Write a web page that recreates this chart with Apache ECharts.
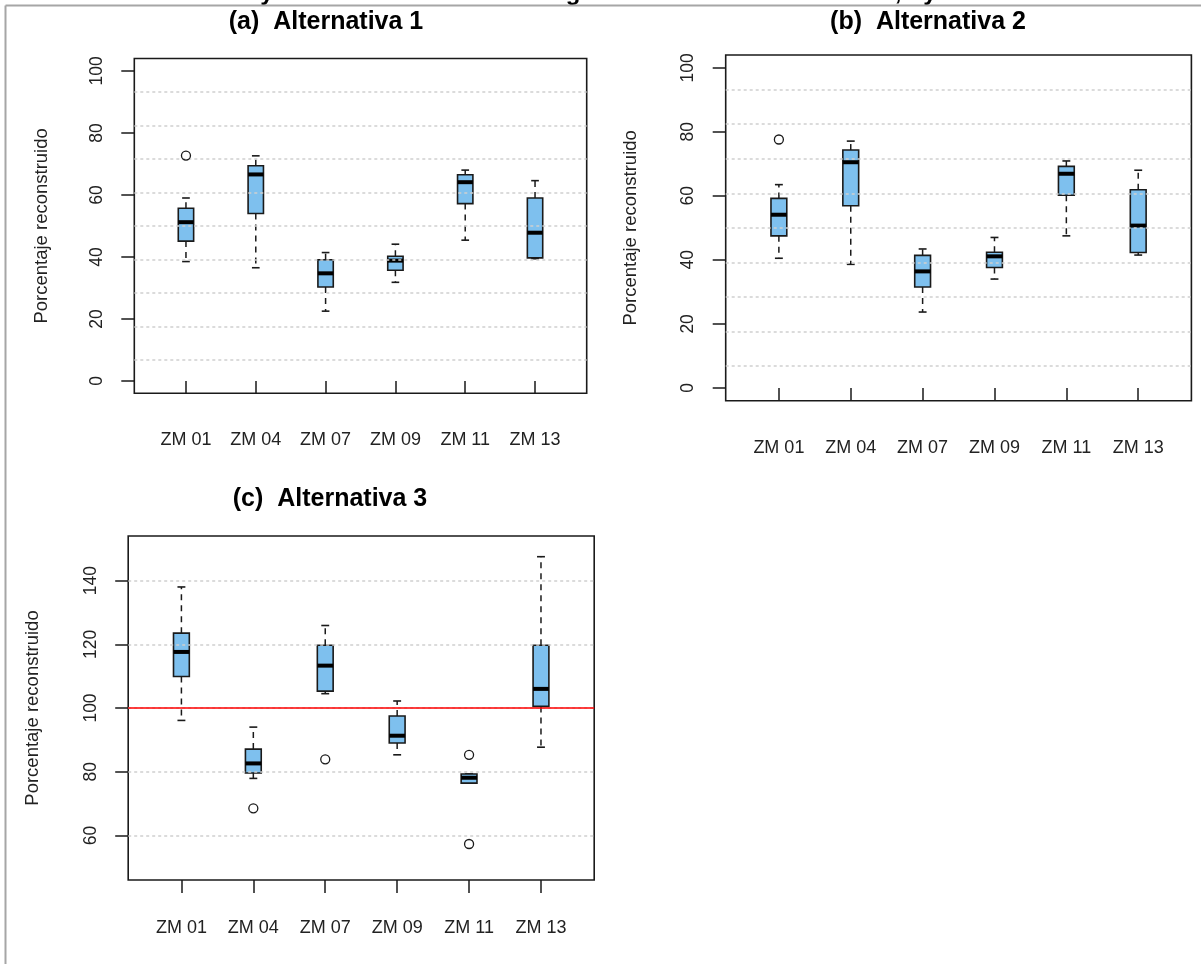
<!DOCTYPE html>
<html>
<head>
<meta charset="utf-8">
<script src="https://cdn.jsdelivr.net/npm/echarts@6/dist/echarts.min.js"></script>
<style>
html,body{margin:0;padding:0;background:#ffffff;}
#chart{width:1201px;height:964px;}
</style>
</head>
<body>
<div id="chart"></div>
<script>
// ---------------- data ----------------
const categories = ['ZM 01', 'ZM 04', 'ZM 07', 'ZM 09', 'ZM 11', 'ZM 13'];
const panelTitles = ['(a)  Alternativa 1', '(b)  Alternativa 2', '(c)  Alternativa 3'];
const yAxisName = 'Porcentaje reconstruido';

// each row: [lower whisker, Q1, median, Q3, upper whisker]
const boxesA = [
  [38.5, 45.1, 51.2, 55.7, 59.0],
  [36.5, 54.0, 66.6, 69.4, 72.6],
  [22.5, 30.3, 34.7, 39.1, 41.4],
  [31.8, 35.7, 38.8, 40.2, 44.1],
  [45.4, 57.2, 64.1, 66.5, 68.0],
  [39.4, 39.7, 47.8, 59.0, 64.6]
];
const outliersA = [['ZM 01', 72.7]];

const boxesB = [
  [40.5, 47.5, 54.1, 59.2, 63.5],
  [38.6, 56.9, 70.5, 74.3, 77.1],
  [23.7, 31.5, 36.4, 41.4, 43.4],
  [34.0, 37.6, 41.1, 42.4, 47.0],
  [47.5, 60.2, 66.9, 69.2, 70.9],
  [41.5, 42.3, 50.7, 61.9, 68.0]
];
const outliersB = [['ZM 01', 77.6]];

const boxesC = [
  [96.1, 109.9, 117.6, 123.5, 138.0],
  [77.9, 79.6, 82.6, 87.1, 94.0],
  [104.5, 105.3, 113.3, 119.7, 125.9],
  [85.3, 89.0, 91.3, 97.5, 102.2],
  [76.4, 76.4, 78.1, 79.3, 79.3],
  [87.7, 100.5, 106.0, 119.7, 147.5]
];
const outliersC = [['ZM 04', 68.5], ['ZM 07', 83.9], ['ZM 11', 85.3], ['ZM 11', 57.3]];

const yTicksAB = [0, 20, 40, 60, 80, 100];
const yTicksC = [60, 80, 100, 120, 140];
const referenceC = [100];

// ---------------- styling ----------------
const FONT = 'Liberation Sans';
const INK = '#1a1a1a';
const TEXT = '#222222';
const BOX_FILL = '#7EC0EE';
const GRID_COLOR = '#cfcfcf';
const BOX_HALF = 0.11;
const CAP_HALF = 0.055;

const xTicks = categories.map((c, i) => i + 1);

function boxData(rows) {
  return rows.map((r, i) => [i + 1].concat(r));
}
function outlierData(rows) {
  return rows.map(r => [categories.indexOf(r[0]) + 1, r[1]]);
}

function renderBox(params, api) {
  const x = api.value(0);
  const lo = api.value(1), q1 = api.value(2), md = api.value(3), q3 = api.value(4), hi = api.value(5);
  const lt = api.coord([x - BOX_HALF, q3]);
  const rb = api.coord([x + BOX_HALF, q1]);
  const mid = api.coord([x, md]);
  const top = api.coord([x, hi]);
  const bot = api.coord([x, lo]);
  const capL = api.coord([x - CAP_HALF, hi])[0];
  const capR = api.coord([x + CAP_HALF, hi])[0];
  const cx = mid[0];
  const whisk = { stroke: INK, lineWidth: 1.5, lineDash: [6, 5], fill: null };
  const solid = { stroke: INK, lineWidth: 1.6, fill: null };
  return {
    type: 'group',
    children: [
      { type: 'line', shape: { x1: cx, y1: lt[1], x2: cx, y2: top[1] }, style: whisk },
      { type: 'line', shape: { x1: cx, y1: rb[1], x2: cx, y2: bot[1] }, style: whisk },
      { type: 'line', shape: { x1: capL, y1: top[1], x2: capR, y2: top[1] }, style: solid },
      { type: 'line', shape: { x1: capL, y1: bot[1], x2: capR, y2: bot[1] }, style: solid },
      { type: 'rect', shape: { x: lt[0], y: lt[1], width: rb[0] - lt[0], height: rb[1] - lt[1] },
        style: { fill: BOX_FILL, stroke: INK, lineWidth: 1.6 } },
      { type: 'line', shape: { x1: lt[0], y1: mid[1], x2: rb[0], y2: mid[1] },
        style: { stroke: '#000', lineWidth: 4 } }
    ]
  };
}

const grids = [
  { left: 134.3, top: 58.5, width: 452.4, height: 334.8 },
  { left: 725.7, top: 55, width: 465.7, height: 345.7 },
  { left: 128.2, top: 536, width: 466, height: 344 }
].map(g => Object.assign({ show: true, borderColor: INK, borderWidth: 1.6, backgroundColor: 'transparent', containLabel: false, outerBoundsMode: 'none' }, g));

function makeX(gi, margin) {
  return {
    gridIndex: gi, type: 'value', min: 0.26, max: 6.74,
    axisLine: { show: false },
    axisTick: { show: true, customValues: xTicks, length: 13, lineStyle: { color: INK, width: 1.5 } },
    axisLabel: { show: true, customValues: xTicks, margin: margin, fontSize: 18, color: TEXT, fontFamily: FONT,
      formatter: v => categories[Math.round(v) - 1] },
    splitLine: { show: false }
  };
}
function makeY(gi, min, max, ticks, nameGap, labelMargin, withGrid) {
  return {
    gridIndex: gi, type: 'value', min: min, max: max, position: 'left', z: 3,
    name: yAxisName, nameLocation: 'middle', nameGap: nameGap, nameRotate: 90,
    nameTextStyle: { fontSize: 18.5, color: TEXT, fontFamily: FONT },
    axisLine: { show: false },
    axisTick: { show: true, customValues: ticks, length: 13, lineStyle: { color: INK, width: 1.5 } },
    axisLabel: { show: true, customValues: ticks, rotate: 90, margin: labelMargin, fontSize: 17.5, color: TEXT, fontFamily: FONT },
    splitLine: { show: withGrid, lineStyle: { color: GRID_COLOR, type: [3, 3], width: 1.5 } }
  };
}
function makeGridLines(gi) {
  return {
    gridIndex: gi, type: 'value', min: 0, max: 100, interval: 10, position: 'right', z: 3,
    axisLine: { show: false }, axisTick: { show: false }, axisLabel: { show: false },
    splitLine: { show: true, showMinLine: false, showMaxLine: false,
      lineStyle: { color: GRID_COLOR, type: [3, 3], width: 1.5 } }
  };
}

const panels = [
  { boxes: boxesA, outliers: outliersA, x: 0, y: 0 },
  { boxes: boxesB, outliers: outliersB, x: 1, y: 2 },
  { boxes: boxesC, outliers: outliersC, x: 2, y: 4 }
];

const series = [];
panels.forEach((p, idx) => {
  const s = {
    type: 'custom', xAxisIndex: p.x, yAxisIndex: p.y, clip: false, silent: true,
    renderItem: renderBox, data: boxData(p.boxes),
    encode: { x: 0, y: [1, 2, 3, 4, 5] }, z: 2
  };
  if (idx === 2) {
    s.markLine = {
      silent: true, symbol: ['none', 'none'], z: 5, animation: false,
      label: { show: false },
      lineStyle: { color: '#ff0000', width: 1.5, type: 'solid' },
      data: referenceC.map(v => ({ yAxis: v }))
    };
  }
  series.push(s);
  series.push({
    type: 'scatter', xAxisIndex: p.x, yAxisIndex: p.y, silent: true,
    symbol: 'circle', symbolSize: 9,
    itemStyle: { color: 'rgba(255,255,255,0)', borderColor: INK, borderWidth: 1.3, opacity: 1 },
    data: outlierData(p.outliers), z: 4
  });
});

const titleFont = 'bold 25px "Liberation Sans"';
const fragFont = 'bold 24px "Liberation Sans"';
const graphic = [
  { type: 'text', x: 326, y: 22, style: { text: panelTitles[0], font: titleFont, fill: '#000', align: 'center', verticalAlign: 'middle' } },
  { type: 'text', x: 928, y: 22, style: { text: panelTitles[1], font: titleFont, fill: '#000', align: 'center', verticalAlign: 'middle' } },
  { type: 'text', x: 330, y: 499, style: { text: panelTitles[2], font: titleFont, fill: '#000', align: 'center', verticalAlign: 'middle' } },
  { type: 'text', x: 267, y: 5, style: { text: 'y', font: fragFont, fill: '#000', align: 'center', verticalAlign: 'bottom' } },
  { type: 'text', x: 573, y: 5, style: { text: 'g', font: fragFont, fill: '#000', align: 'center', verticalAlign: 'bottom' } },
  { type: 'text', x: 898, y: 5, style: { text: ',', font: fragFont, fill: '#000', align: 'center', verticalAlign: 'bottom' } },
  { type: 'text', x: 930, y: 5, style: { text: 'y', font: fragFont, fill: '#000', align: 'center', verticalAlign: 'bottom' } },
  { type: 'line', shape: { x1: 5.5, y1: 5.5, x2: 1201, y2: 5.5 }, style: { stroke: '#a6a6a6', lineWidth: 2 }, z: 10 },
  { type: 'line', shape: { x1: 5.5, y1: 5.5, x2: 5.5, y2: 964 }, style: { stroke: '#a6a6a6', lineWidth: 2 }, z: 10 }
];

const option = {
  animation: false,
  backgroundColor: '#ffffff',
  grid: grids,
  xAxis: [makeX(0, 38), makeX(1, 38.5), makeX(2, 39)],
  yAxis: [
    makeY(0, -4, 104, yTicksAB, 83, 28, false),
    makeGridLines(0),
    makeY(1, -4, 104, yTicksAB, 85, 29, false),
    makeGridLines(1),
    makeY(2, 46, 154, yTicksC, 85.5, 28, true)
  ],
  series: series,
  graphic: graphic
};

const chart = echarts.init(document.getElementById('chart'), null, { renderer: 'canvas' });
chart.setOption(option);
</script>
</body>
</html>
